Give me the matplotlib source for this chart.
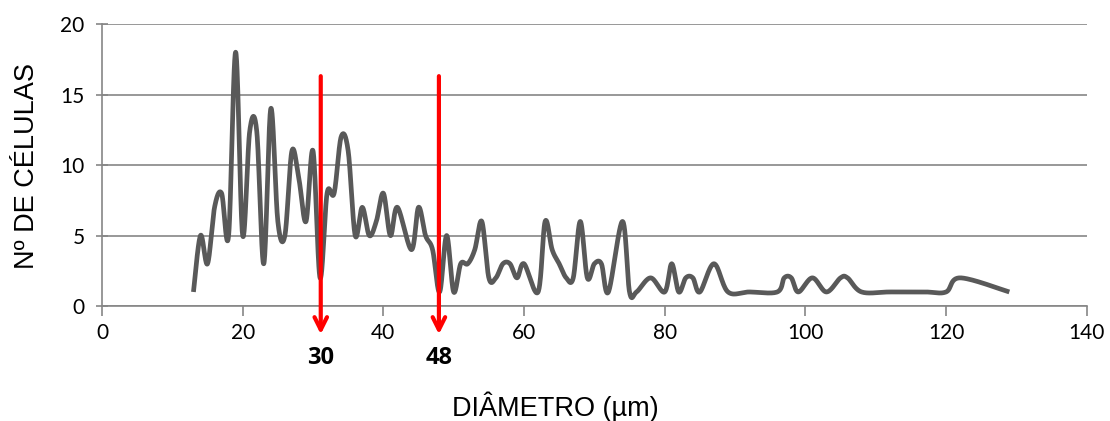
import numpy as np
import matplotlib
matplotlib.use('Agg')
import matplotlib.pyplot as plt

# diameter (um) and number of cells
diametro = [13, 14, 15, 16, 17, 18, 19, 20, 21, 22, 23, 24, 25, 26, 27, 28, 29, 30,
            31, 32, 33, 34, 35, 36, 37, 38, 39, 40, 41, 42, 44, 45, 46, 47, 48, 49,
            50, 51, 52, 53, 54, 55, 56, 57, 58, 59, 60, 62, 63, 64, 65, 66, 67, 68,
            69, 70, 71, 72, 74, 75, 76, 78, 80, 81, 82, 83, 84, 85, 87, 89, 92, 96,
            97, 98, 99, 101, 103, 105, 106, 108, 112, 117, 120, 122, 129]
celulas = [1, 5, 3, 7, 8, 5, 18, 5, 12.4, 12.4, 3, 14, 6, 5, 11, 9, 6, 11,
           2, 8, 8, 12, 11, 5, 7, 5, 6, 8, 5, 7, 4, 7, 5, 4, 1, 5,
           1, 3, 3, 4, 6, 2, 2, 3, 3, 2, 3, 1, 6, 4, 3, 2, 2, 6,
           2, 3, 3, 1, 6, 1, 1, 2, 1, 3, 1, 2, 2, 1, 3, 1, 1, 1,
           2, 2, 1, 2, 1, 2, 2, 1, 1, 1, 1, 2, 1]

setas = [31.1, 47.9]
setas_txt = ['30', '48']


def smooth(x, y, n=30):
    # Catmull-Rom style bezier, close to Excel's smoothed line
    x = np.asarray(x, float)
    y = np.asarray(y, float)
    px = np.concatenate([[x[0]], x, [x[-1]]])
    py = np.concatenate([[y[0]], y, [y[-1]]])
    xs, ys = [], []
    t = np.linspace(0, 1, n)
    for i in range(1, len(px) - 2):
        p0 = np.array([px[i], py[i]])
        p3 = np.array([px[i + 1], py[i + 1]])
        c1 = p0 + (p3 - np.array([px[i - 1], py[i - 1]])) / 6
        c2 = p3 - (np.array([px[i + 2], py[i + 2]]) - p0) / 6
        b = ((1 - t)[:, None] ** 3 * p0 + 3 * ((1 - t) ** 2 * t)[:, None] * c1
             + 3 * ((1 - t) * t ** 2)[:, None] * c2 + (t ** 3)[:, None] * p3)
        xs.extend(b[:, 0])
        ys.extend(b[:, 1])
    return xs, ys


fig = plt.figure(figsize=(11.1, 4.21), dpi=100)
ax = fig.add_axes([0.0919, 0.273, 0.8871, 0.670])

sx, sy = smooth(diametro, celulas)
ax.plot(sx, sy, color='#595959', lw=3.4, solid_capstyle='butt', zorder=3)

ax.set_xlim(0, 140)
ax.set_ylim(0, 20)
ax.set_xticks(range(0, 141, 20))
ax.set_yticks(range(0, 21, 5))
ax.yaxis.grid(True, color='#868686', lw=1.2)
ax.set_axisbelow(True)
for s in ('top', 'right'):
    ax.spines[s].set_visible(False)
for s in ('left', 'bottom'):
    ax.spines[s].set_color('#868686')
    ax.spines[s].set_linewidth(1.2)
ax.tick_params(axis='x', direction='out', length=7, color='#868686', width=1.2,
               labelsize=15, pad=5)
ax.tick_params(axis='y', direction='inout', length=9, color='#868686', width=1.2,
               labelsize=15, pad=8)
for lab in ax.get_xticklabels() + ax.get_yticklabels():
    lab.set_family(['Lato', 'DejaVu Sans'])

for xv, txt in zip(setas, setas_txt):
    ax.annotate('', xy=(xv, -2.2), xytext=(xv, 16.5), annotation_clip=False,
                arrowprops=dict(arrowstyle='->,head_length=0.9,head_width=0.45',
                                color='#ff0000', lw=3), zorder=5)
    ax.text(xv, -3.7, txt, ha='center', va='center', fontsize=17,
            fontweight='bold', family=['Open Sans', 'DejaVu Sans'], clip_on=False)

fig.text(555 / 1110, 1 - 407 / 421, 'DIÂMETRO (µm)', ha='center', va='center',
         fontsize=19.5, family=['Liberation Sans', 'DejaVu Sans'])
fig.text(27 / 1110, 1 - 166 / 421, 'Nº DE CÉLULAS', ha='center', va='center',
         rotation=90, fontsize=19.5, family=['Liberation Sans', 'DejaVu Sans'])

fig.savefig('out.png', dpi=100)
